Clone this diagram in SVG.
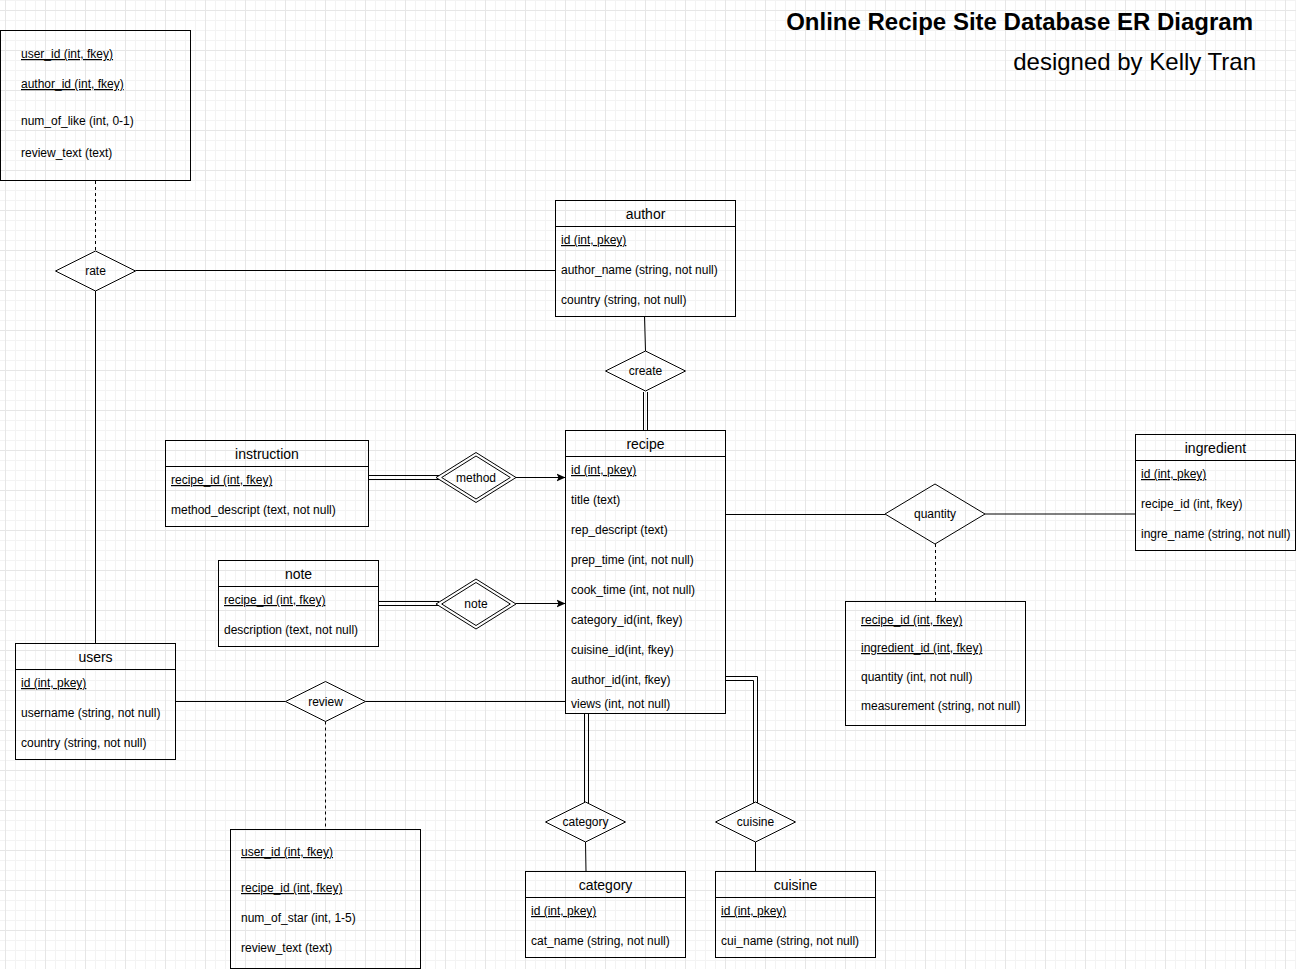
<svg xmlns="http://www.w3.org/2000/svg" width="1296" height="969" viewBox="0 0 1296 969">
<style>
.box{fill:none;stroke:#000;stroke-width:1}
.ln{fill:none;stroke:#000;stroke-width:1}
.dash{stroke-dasharray:3 3}
text{font-family:"Liberation Sans",Arial,Helvetica,sans-serif;fill:#000}
.t{font-size:12px}
.h{font-size:14px;text-anchor:middle}
.c{font-size:12px;text-anchor:middle}
.u{text-decoration:underline}
</style>
<defs>
<pattern id="grid" patternUnits="userSpaceOnUse" x="5" y="10" width="40" height="40">
<rect x="0" y="0" width="40" height="40" fill="#fff"/>
<rect x="10" y="0" width="1" height="40" fill="#f3f3f3"/>
<rect x="20" y="0" width="1" height="40" fill="#f3f3f3"/>
<rect x="30" y="0" width="1" height="40" fill="#f3f3f3"/>
<rect x="0" y="10" width="40" height="1" fill="#f3f3f3"/>
<rect x="0" y="20" width="40" height="1" fill="#f3f3f3"/>
<rect x="0" y="30" width="40" height="1" fill="#f3f3f3"/>
<rect x="0" y="0" width="1" height="40" fill="#e6e6e6"/>
<rect x="0" y="0" width="40" height="1" fill="#e6e6e6"/>
</pattern>
<marker id="arr" markerUnits="userSpaceOnUse" markerWidth="10" markerHeight="9" refX="9" refY="4.5" orient="auto">
<path d="M0,0.5 L9,4.5 L0,8.5 L2,4.5 Z" fill="#000"/>
</marker>
</defs>
<rect x="0" y="0" width="1296" height="969" fill="url(#grid)"/>

<g id="title">
<text x="1253" y="30" font-size="24" font-weight="bold" text-anchor="end">Online Recipe Site Database ER Diagram</text>
<text x="1256" y="70" font-size="24" text-anchor="end">designed by Kelly Tran</text>
</g>

<g id="connectors">
<line class="ln dash" x1="95.5" y1="181" x2="95.5" y2="251"/>
<line class="ln" x1="135.5" y1="270.5" x2="555.5" y2="270.5"/>
<line class="ln" x1="95.5" y1="291" x2="95.5" y2="643.5"/>
<line class="ln" x1="644.5" y1="316.5" x2="645.5" y2="351"/>
<line class="ln" x1="643.5" y1="392" x2="643.5" y2="430.5"/>
<line class="ln" x1="647.5" y1="392" x2="647.5" y2="430.5"/>
<line class="ln" x1="368.5" y1="475.5" x2="439" y2="475.5"/>
<line class="ln" x1="368.5" y1="479.5" x2="439" y2="479.5"/>
<line class="ln" x1="516" y1="477.5" x2="565.5" y2="477.5" marker-end="url(#arr)"/>
<line class="ln" x1="378.5" y1="601.5" x2="439" y2="601.5"/>
<line class="ln" x1="378.5" y1="605.5" x2="439" y2="605.5"/>
<line class="ln" x1="516" y1="603.5" x2="565.5" y2="603.5" marker-end="url(#arr)"/>
<line class="ln" x1="725.5" y1="514.5" x2="885" y2="514.5"/>
<line class="ln" x1="985" y1="514" x2="1135.5" y2="514"/>
<line class="ln dash" x1="935.5" y1="544" x2="935.5" y2="601.5"/>
<line class="ln" x1="175.5" y1="701.5" x2="285.5" y2="701.5"/>
<line class="ln" x1="365.5" y1="701.5" x2="565.5" y2="701.5"/>
<line class="ln dash" x1="325.5" y1="721.5" x2="325.5" y2="829.5"/>
<line class="ln" x1="584.5" y1="713.5" x2="584.5" y2="803"/>
<line class="ln" x1="588.5" y1="713.5" x2="588.5" y2="803"/>
<line class="ln" x1="585.5" y1="842" x2="586" y2="871.5"/>
<path class="ln" d="M725.5,676.5 H757.5 V803"/>
<path class="ln" d="M725.5,680.5 H753.5 V803"/>
<line class="ln" x1="755.5" y1="842" x2="755.5" y2="871.5"/>
</g>

<g id="rate-attrs">
<rect class="box" x="0.5" y="30.5" width="190" height="150"/>
<text class="t u" x="21" y="58">user_id (int, fkey)</text>
<text class="t u" x="21" y="88">author_id (int, fkey)</text>
<text class="t" x="21" y="125">num_of_like (int, 0-1)</text>
<text class="t" x="21" y="157">review_text (text)</text>
</g>

<g id="rate">
<polygon class="box" points="55.5,271 95.5,251 135.5,271 95.5,291"/>
<text class="c" x="95.5" y="275">rate</text>
</g>

<g id="author">
<rect class="box" x="555.5" y="200.5" width="180" height="116"/>
<line class="ln" x1="555.5" y1="226.5" x2="735.5" y2="226.5"/>
<text class="h" x="645.5" y="219">author</text>
<text class="t u" x="561" y="244">id (int, pkey)</text>
<text class="t" x="561" y="274">author_name (string, not null)</text>
<text class="t" x="561" y="304">country (string, not null)</text>
</g>

<g id="create">
<polygon class="box" points="605.5,371 645.5,351 685.5,371 645.5,391"/>
<text class="c" x="645.5" y="375">create</text>
</g>

<g id="recipe">
<rect class="box" x="565.5" y="430.5" width="160" height="283"/>
<line class="ln" x1="565.5" y1="456.5" x2="725.5" y2="456.5"/>
<text class="h" x="645.5" y="449">recipe</text>
<text class="t u" x="571" y="474">id (int, pkey)</text>
<text class="t" x="571" y="504">title (text)</text>
<text class="t" x="571" y="534">rep_descript (text)</text>
<text class="t" x="571" y="564">prep_time (int, not null)</text>
<text class="t" x="571" y="594">cook_time (int, not null)</text>
<text class="t" x="571" y="624">category_id(int, fkey)</text>
<text class="t" x="571" y="654">cuisine_id(int, fkey)</text>
<text class="t" x="571" y="684">author_id(int, fkey)</text>
<text class="t" x="571" y="708">views (int, not null)</text>
</g>

<g id="instruction">
<rect class="box" x="165.5" y="440.5" width="203" height="86"/>
<line class="ln" x1="165.5" y1="466.5" x2="368.5" y2="466.5"/>
<text class="h" x="267" y="459">instruction</text>
<text class="t u" x="171" y="484">recipe_id (int, fkey)</text>
<text class="t" x="171" y="514">method_descript (text, not null)</text>
</g>

<g id="method">
<polygon class="box" points="436,477.5 476,452.5 516,477.5 476,502.5"/>
<polygon class="box" points="441.7,477.5 476,456 510.3,477.5 476,499"/>
<text class="c" x="476" y="482">method</text>
</g>

<g id="note">
<rect class="box" x="218.5" y="560.5" width="160" height="86"/>
<line class="ln" x1="218.5" y1="586.5" x2="378.5" y2="586.5"/>
<text class="h" x="298.5" y="579">note</text>
<text class="t u" x="224" y="604">recipe_id (int, fkey)</text>
<text class="t" x="224" y="634">description (text, not null)</text>
</g>

<g id="note-rel">
<polygon class="box" points="436,604 476,579 516,604 476,629"/>
<polygon class="box" points="441.7,604 476,582.5 510.3,604 476,625.5"/>
<text class="c" x="476" y="608">note</text>
</g>

<g id="users">
<rect class="box" x="15.5" y="643.5" width="160" height="116"/>
<line class="ln" x1="15.5" y1="669.5" x2="175.5" y2="669.5"/>
<text class="h" x="95.5" y="662">users</text>
<text class="t u" x="21" y="687">id (int, pkey)</text>
<text class="t" x="21" y="717">username (string, not null)</text>
<text class="t" x="21" y="747">country (string, not null)</text>
</g>

<g id="review">
<polygon class="box" points="285.5,701.5 325.5,681.5 365.5,701.5 325.5,721.5"/>
<text class="c" x="325.5" y="706">review</text>
</g>

<g id="review-attrs">
<rect class="box" x="230.5" y="829.5" width="190" height="139"/>
<text class="t u" x="241" y="856">user_id (int, fkey)</text>
<text class="t u" x="241" y="892">recipe_id (int, fkey)</text>
<text class="t" x="241" y="922">num_of_star (int, 1-5)</text>
<text class="t" x="241" y="952">review_text (text)</text>
</g>

<g id="category-rel">
<polygon class="box" points="545.5,822 585.5,802 625.5,822 585.5,842"/>
<text class="c" x="585.5" y="826">category</text>
</g>

<g id="cuisine-rel">
<polygon class="box" points="715.5,822 755.5,802 795.5,822 755.5,842"/>
<text class="c" x="755.5" y="826">cuisine</text>
</g>

<g id="category">
<rect class="box" x="525.5" y="871.5" width="160" height="86"/>
<line class="ln" x1="525.5" y1="897.5" x2="685.5" y2="897.5"/>
<text class="h" x="605.5" y="890">category</text>
<text class="t u" x="531" y="915">id (int, pkey)</text>
<text class="t" x="531" y="945">cat_name (string, not null)</text>
</g>

<g id="cuisine">
<rect class="box" x="715.5" y="871.5" width="160" height="86"/>
<line class="ln" x1="715.5" y1="897.5" x2="875.5" y2="897.5"/>
<text class="h" x="795.5" y="890">cuisine</text>
<text class="t u" x="721" y="915">id (int, pkey)</text>
<text class="t" x="721" y="945">cui_name (string, not null)</text>
</g>

<g id="quantity">
<polygon class="box" points="885,514 935,484 985,514 935,544"/>
<text class="c" x="935" y="518">quantity</text>
</g>

<g id="quantity-attrs">
<rect class="box" x="845.5" y="601.5" width="180" height="124"/>
<text class="t u" x="861" y="624">recipe_id (int, fkey)</text>
<text class="t u" x="861" y="652">ingredient_id (int, fkey)</text>
<text class="t" x="861" y="681">quantity (int, not null)</text>
<text class="t" x="861" y="710">measurement (string, not null)</text>
</g>

<g id="ingredient">
<rect class="box" x="1135.5" y="434.5" width="160" height="116"/>
<line class="ln" x1="1135.5" y1="460.5" x2="1295.5" y2="460.5"/>
<text class="h" x="1215.5" y="453">ingredient</text>
<text class="t u" x="1141" y="478">id (int, pkey)</text>
<text class="t" x="1141" y="508">recipe_id (int, fkey)</text>
<text class="t" x="1141" y="538">ingre_name (string, not null)</text>
</g>
</svg>
